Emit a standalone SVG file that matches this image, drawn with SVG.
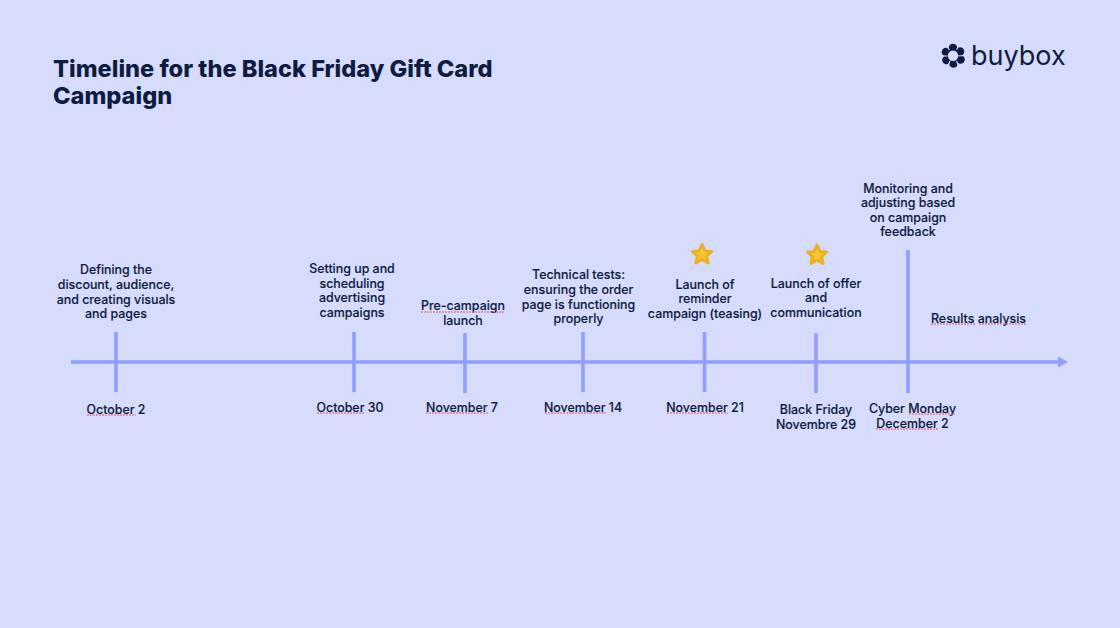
<svg xmlns="http://www.w3.org/2000/svg" width="1120" height="628" viewBox="0 0 1120 628">
<style>
text{font-family:Inter,"Liberation Sans",sans-serif;fill:#0f1c42}
.t{font-size:12.400px;font-weight:500;text-anchor:middle;stroke:#0f1c42;stroke-width:.15}
.h{font-size:23.600px;font-weight:800}
.a{stroke:#8f9fff;stroke-width:3.600;fill:none}
.q{stroke:#ea4f63;stroke-width:1.100;fill:none;stroke-dasharray:2 1}
.s{fill:#f6c62f;stroke:#e8b324;stroke-width:3;stroke-linejoin:round}
.g{stroke:#d7dcfd;stroke-width:1.200;fill:none}
</style>
<defs>
<polygon id="star" class="s" points="0,-10 2.900,-3.600 9.600,-3 4.600,1.600 6,8.400 0,4.900 -6,8.400 -4.600,1.600 -9.600,-3 -2.900,-3.600"/>
</defs>
<rect width="1120" height="628" fill="#d7dcfd"/>
<g id="title"><text class="h" x="53" y="76.500">Timeline for the Black Friday Gift Card</text><text class="h" x="53" y="103.500">Campaign</text></g>
<g id="logo">
<g fill="#0f1c42"><circle cx="953" cy="48" r="4.300"/><circle cx="960" cy="51.500" r="4.300"/><circle cx="960.500" cy="59.500" r="4.300"/><circle cx="953.500" cy="63.500" r="4.300"/><circle cx="946.500" cy="60" r="4.300"/><circle cx="946" cy="52" r="4.300"/></g>
<circle cx="953" cy="55.800" r="5.200" fill="#d7dcfd"/>
<path class="g" d="M956.500 49.500L960 44.500M958.500 56L965 55.500M956.500 61L959 66.500M950 61L947.500 66.500M947.500 56L941 56M949.500 50L946 45.500"/>
<text x="971" y="65" style="font-size:27px;font-weight:400">buybox</text></g>
<g id="connectors">
<path class="a" d="M71 362H1060"/>
<path d="M1058 356.500L1068 362L1058 367.500Z" fill="#8f9fff"/>
<path class="a" d="M116 332V392M354 332V392M465 333V393M583 332V392M704.500 332V392M816 333V393M908 250V393"/>
</g>
<g id="n1"><text class="t"><tspan x="116" y="274">Defining the</tspan><tspan x="116" y="289">discount, audience,</tspan><tspan x="116" y="304">and creating visuals</tspan><tspan x="116" y="318">and pages</tspan></text><text class="t" x="116" y="414">October 2</text><path class="q" d="M87 415H136"/></g>
<g id="n2"><text class="t"><tspan x="352" y="273">Setting up and</tspan><tspan x="352" y="288">scheduling</tspan><tspan x="352" y="302">advertising</tspan><tspan x="352" y="317">campaigns</tspan></text><text class="t" x="350" y="412">October 30</text><path class="q" d="M317 413H365"/></g>
<g id="n3"><text class="t"><tspan x="463" y="310">Pre-campaign</tspan><tspan x="463" y="325">launch</tspan></text><path class="q" d="M421 312H505"/><text class="t" x="462" y="412">November 7</text><path class="q" d="M426 413H488"/></g>
<g id="n4"><text class="t"><tspan x="578.500" y="279">Technical tests:</tspan><tspan x="578.500" y="294">ensuring the order</tspan><tspan x="578.500" y="309">page is functioning</tspan><tspan x="578.500" y="323">properly</tspan></text><text class="t" x="583" y="412">November 14</text><path class="q" d="M545 413H606"/></g>
<g id="n5"><use href="#star" x="702" y="254.500"/><text class="t"><tspan x="705" y="289">Launch of</tspan><tspan x="705" y="303">reminder</tspan><tspan x="705" y="318">campaign (teasing)</tspan></text><text class="t" x="705" y="412">November 21</text><path class="q" d="M667 413H728"/></g>
<g id="n6"><use href="#star" x="817" y="255"/><text class="t"><tspan x="816" y="288">Launch of offer</tspan><tspan x="816" y="302">and</tspan><tspan x="816" y="317">communication</tspan></text><text class="t"><tspan x="816" y="414">Black Friday</tspan><tspan x="816" y="429">Novembre 29</tspan></text></g>
<g id="n7"><text class="t"><tspan x="908" y="193">Monitoring and</tspan><tspan x="908" y="207">adjusting based</tspan><tspan x="908" y="222">on campaign</tspan><tspan x="908" y="236">feedback</tspan></text><text class="t"><tspan x="912.500" y="413">Cyber Monday</tspan><tspan x="912.500" y="428">December 2</tspan></text><path class="q" d="M909 414H955M876 429H939"/></g>
<g id="n8"><text class="t" x="978.500" y="323">Results analysis</text><path class="q" d="M931 324H976M979 324H1026"/></g>
</svg>
